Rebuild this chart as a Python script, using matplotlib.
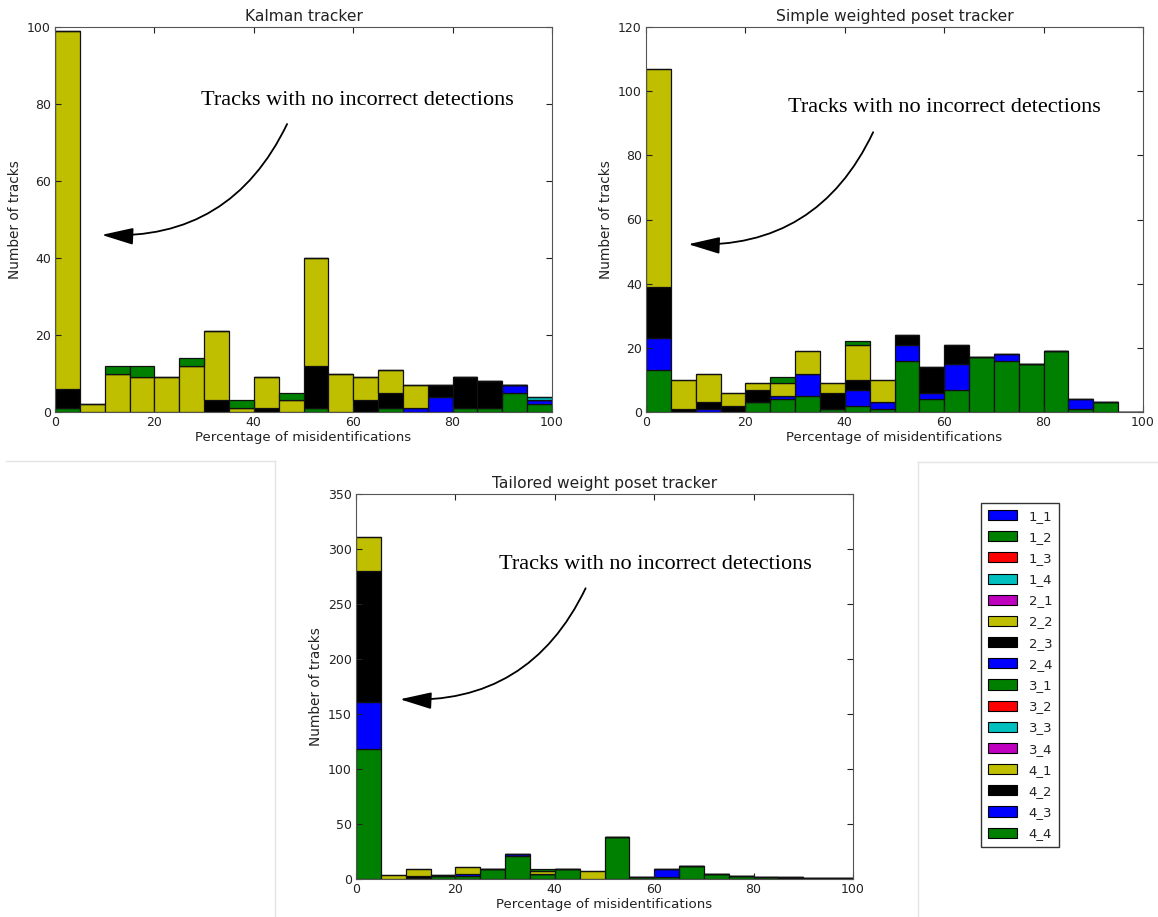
import numpy as np
import matplotlib
matplotlib.use('Agg')
import matplotlib.pyplot as plt
from matplotlib.patches import Patch
from matplotlib.lines import Line2D

# bins of the percentage of misidentifications
bins = np.arange(0, 105, 5)
centers = bins[:-1] + 2.5

labels = ['1_1', '1_2', '1_3', '1_4', '2_1', '2_2', '2_3', '2_4',
          '3_1', '3_2', '3_3', '3_4', '4_1', '4_2', '4_3', '4_4']
colors = ['#0000ff', '#008000', '#ff0000', '#00bfbf', '#bf00bf', '#bfbf00', '#000000', '#0000ff',
          '#008000', '#ff0000', '#00bfbf', '#bf00bf', '#bfbf00', '#000000', '#0000ff', '#008000']

# Kalman tracker (counts per bin, stacked bottom -> top)
kalman_4_4 = [1, 0, 0, 0, 0, 0, 0, 0, 0, 0, 1, 0, 0, 1, 0, 0, 1, 1, 5, 2]
kalman_4_3 = [0, 0, 0, 0, 0, 0, 0, 0, 0, 0, 0, 0, 0, 0, 1, 4, 0, 0, 2, 1]
kalman_4_2 = [5, 0, 0, 0, 0, 0, 3, 0, 1, 0, 11, 0, 3, 4, 0, 3, 8, 7, 0, 0]
kalman_4_1 = [93, 2, 10, 9, 9, 12, 18, 1, 8, 3, 28, 10, 6, 6, 6, 0, 0, 0, 0, 0]
kalman_3_3 = [0, 0, 0, 0, 0, 0, 0, 0, 0, 0, 0, 0, 0, 0, 0, 0, 0, 0, 0, 1]
kalman_3_1 = [0, 0, 2, 3, 0, 2, 0, 2, 0, 2, 0, 0, 0, 0, 0, 0, 0, 0, 0, 0]

# Simple weighted poset tracker
simple_4_4 = [13, 0, 0, 0, 3, 4, 5, 1, 2, 1, 16, 4, 7, 17, 16, 15, 19, 1, 3, 0]
simple_4_3 = [10, 0, 1, 0, 0, 1, 7, 0, 5, 2, 5, 2, 8, 0, 2, 0, 0, 3, 0, 0]
simple_4_2 = [16, 1, 2, 2, 4, 0, 0, 5, 3, 0, 3, 8, 6, 0, 0, 0, 0, 0, 0, 0]
simple_4_1 = [68, 9, 9, 4, 2, 4, 7, 3, 11, 7, 0, 0, 0, 0, 0, 0, 0, 0, 0, 0]
simple_3_1 = [0, 0, 0, 0, 0, 2, 0, 0, 1, 0, 0, 0, 0, 0, 0, 0, 0, 0, 0, 0]

# Tailored weight poset tracker
tailored_4_4 = [118, 0, 1, 3, 3, 9, 21, 5, 9, 0, 38, 2, 2, 12, 5, 3, 2, 1, 1, 1]
tailored_4_3 = [43, 0, 0, 0, 2, 0, 2, 0, 0, 0, 0, 0, 7, 0, 0, 0, 0, 1, 0, 0]
tailored_4_2 = [119, 0, 2, 1, 0, 0, 0, 0, 0, 0, 0, 0, 0, 0, 0, 0, 0, 0, 0, 0]
tailored_4_1 = [31, 4, 6, 0, 6, 0, 0, 2, 0, 7, 0, 0, 0, 0, 0, 0, 0, 0, 0, 0]
tailored_3_1 = [0, 0, 0, 0, 0, 0, 0, 2, 0, 0, 0, 0, 0, 0, 0, 0, 0, 0, 0, 0]

color_of = dict(zip(labels, colors))
note = 'Tracks with no incorrect detections'

fig = plt.figure(figsize=(11.58, 9.17), dpi=100)


def draw(ax, series, title, ymax, yticks, text_xy, arrow_from, arrow_to):
    names = [s[0] for s in series]
    w = [s[1] for s in series]
    ax.hist([centers] * len(w), bins=bins, weights=w, stacked=True,
            color=[color_of[n] for n in names], edgecolor='#111111', linewidth=0.9)
    ax.set_xlim(0, 100)
    ax.set_ylim(0, ymax)
    ax.set_yticks(yticks)
    ax.set_xticks([0, 20, 40, 60, 80, 100])
    ax.tick_params(direction='in', top=True, right=True, length=4,
                   labelsize=9, colors='#222222', pad=3)
    ax.set_title(title, fontsize=11.2, color='#222222', pad=4)
    ax.set_xlabel('Percentage of misidentifications', fontsize=9.6, color='#222222', labelpad=1)
    ax.set_ylabel('Number of tracks', fontsize=9.8, color='#222222')
    ax.yaxis.set_label_coords(-0.066, 0.5)
    for s in ax.spines.values():
        s.set_color('#555555')
    ax.text(text_xy[0], text_xy[1], note, family='Liberation Serif', fontsize=16,
            va='center', ha='left')
    ax.annotate('', xy=arrow_to, xytext=arrow_from,
                arrowprops=dict(arrowstyle='-|>,head_length=1.5,head_width=0.4',
                                connectionstyle='arc3,rad=-0.33', color='black',
                                lw=1.3, mutation_scale=13, shrinkA=0, shrinkB=0))


ax1 = fig.add_axes([55 / 1158, 1 - 412 / 917, 497 / 1158, 385 / 917])
draw(ax1, [('4_4', kalman_4_4), ('4_3', kalman_4_3), ('4_2', kalman_4_2),
           ('4_1', kalman_4_1), ('3_3', kalman_3_3), ('3_1', kalman_3_1)],
     'Kalman tracker', 100, [0, 20, 40, 60, 80, 100],
     (29.3, 81), (46.7, 74.8), (9.4, 46))

ax2 = fig.add_axes([646 / 1158, 1 - 412 / 917, 497 / 1158, 385 / 917])
draw(ax2, [('4_4', simple_4_4), ('4_3', simple_4_3), ('4_2', simple_4_2),
           ('4_1', simple_4_1), ('3_1', simple_3_1)],
     'Simple weighted poset tracker', 120, [0, 20, 40, 60, 80, 100, 120],
     (28.6, 94.8), (45.7, 87.2), (8.5, 52.3))

ax3 = fig.add_axes([356 / 1158, 1 - 879 / 917, 497 / 1158, 385 / 917])
draw(ax3, [('4_4', tailored_4_4), ('4_3', tailored_4_3), ('4_2', tailored_4_2),
           ('4_1', tailored_4_1), ('3_1', tailored_3_1)],
     'Tailored weight poset tracker', 350, [0, 50, 100, 150, 200, 250, 300, 350],
     (28.8, 285.5), (46.2, 264.3), (8.85, 163.4))

handles = [Patch(facecolor=c, edgecolor='black', linewidth=0.8) for c in colors]
leg = fig.legend(handles, labels, loc='upper left', bbox_to_anchor=(981 / 1158, 1 - 503 / 917),
                 fontsize=9.5, frameon=True, fancybox=False, handlelength=2.2,
                 handleheight=0.8, labelspacing=0.62, borderpad=0.5, handletextpad=0.9,
                 borderaxespad=0)
leg.get_frame().set_edgecolor('black')
leg.get_frame().set_linewidth(1)
for t in leg.get_texts():
    t.set_color('#222222')

# light panel borders of the original composite
grey = '#e4e4e4'
fig.add_artist(Line2D([6 / 1158, 275 / 1158], [1 - 461 / 917] * 2, color=grey, lw=1))
fig.add_artist(Line2D([275 / 1158] * 2, [1 - 461 / 917, 0], color=grey, lw=1))
fig.add_artist(Line2D([918 / 1158, 1], [1 - 462 / 917] * 2, color=grey, lw=1))
fig.add_artist(Line2D([918 / 1158] * 2, [1 - 462 / 917, 0], color=grey, lw=1))

fig.savefig('out.png', dpi=100)
